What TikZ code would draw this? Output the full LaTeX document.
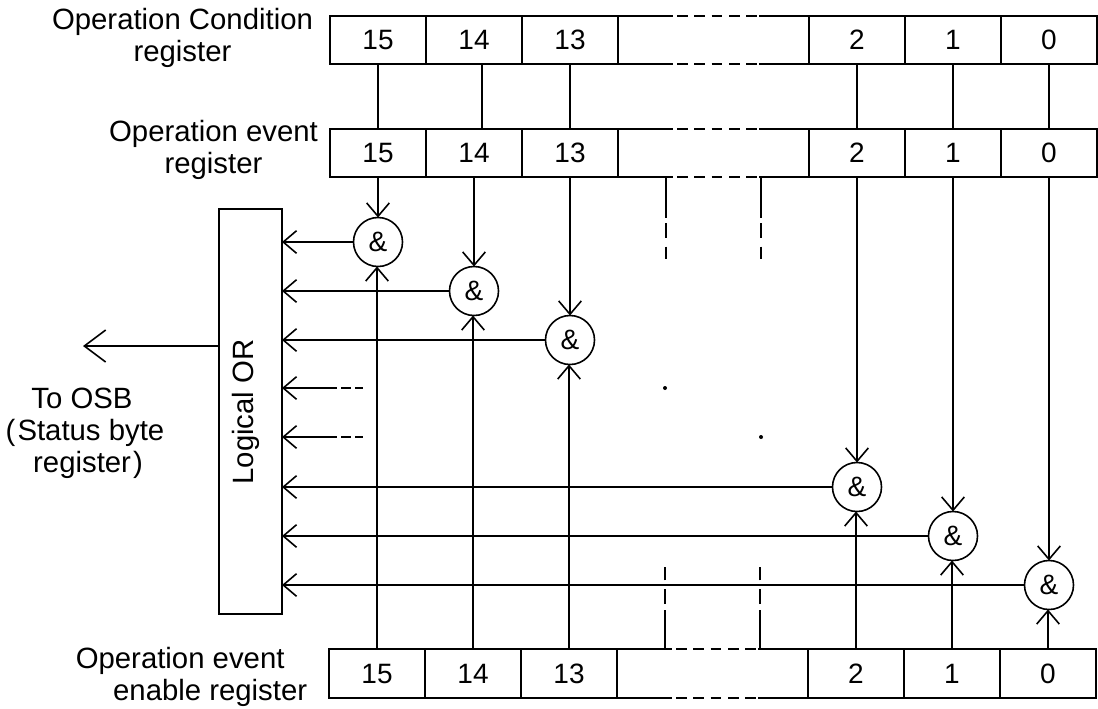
\documentclass[tikz,border=0pt]{standalone}
\usepackage{fontspec}
\setmainfont{Liberation Sans}
\usetikzlibrary{arrows.meta,calc}
\tikzset{
  x=0.75pt,y=-0.75pt,
  every path/.style={line width=1.2pt},
  cell/.style={draw,rectangle,minimum width=72pt,minimum height=36pt,inner sep=0pt,outer sep=0pt,font=\fontsize{21}{24}\selectfont},
  gap/.style={rectangle,minimum width=143.25pt,minimum height=36pt,inner sep=0pt,outer sep=0pt},
  andgate/.style={draw,circle,minimum size=36.75pt,inner sep=0pt,outer sep=0pt,font=\fontsize{21}{24}\selectfont},
  orbox/.style={draw,rectangle,minimum width=47.25pt,minimum height=303.75pt,inner sep=0pt,outer sep=0pt},
  lbl/.style={align=center,inner sep=0pt,font=\fontsize{22}{24}\selectfont},
  vee/.style={-{Straight Barb[length=10pt,width=17pt]}},
  bigvee/.style={-{Straight Barb[length=16pt,width=24pt]}},
  stubdash/.style={dash pattern=on 11pt off 6.75pt},
  regdash/.style={dash pattern=on 8pt off 5pt},
  dot/.style={circle,fill,minimum size=3pt,inner sep=0pt},
}
\begin{document}
\begin{tikzpicture}
\useasboundingbox (0,0) rectangle (1098,708);
% registers
\foreach \n/\x in {15/378,14/474,13/570,2/857,1/953,0/1049}{
  \node[cell] (t\n) at (\x,40) {\n};
  \node[cell] (e\n) at (\x,153) {\n};
  \node[cell,minimum height=36.75pt] (b\n) at (\x-1,673.5) {\n};
}
\node[gap] (tm) at (713.5,40) {};
\node[gap] (em) at (713.5,153) {};
\node[gap,minimum height=36.75pt] (bm) at (712.5,673.5) {};
\foreach \m in {tm,em,bm}{
  \draw (\m.north west) -- ++(55,0) coordinate (\m a);
  \draw[regdash] ($(\m a)+(4,0)$) -- ++(80,0);
  \draw ($(\m a)+(86,0)$) -- (\m.north east);
  \draw (\m.south west) -- ++(55,0) coordinate (\m c);
  \draw[regdash] ($(\m c)+(4,0)$) -- ++(80,0);
  \draw ($(\m c)+(86,0)$) -- (\m.south east);
}
% gates
\node[andgate] (c15) at (378,242) {\&};
\node[andgate] (c14) at (474,291) {\&};
\node[andgate] (c13) at (570,340) {\&};
\node[andgate] (c2) at (857,487) {\&};
\node[andgate] (c1) at (953,536) {\&};
\node[andgate] (c0) at (1049,585) {\&};
\node[orbox] (orb) at (250.5,411.5) {};
\node[rotate=90,inner sep=0pt,font=\fontsize{22}{24}\selectfont] (ortext) at (246,412) {Logical OR};
% condition to event
\draw (t15.south) -- (e15.north);
\draw ($(t14.south)+(8,0)$) -- ($(e14.north)+(8,0)$);
\foreach \n in {13,2,1,0}{\draw (t\n.south) -- (e\n.north);}
% gates in/out
\foreach \n in {15,14,13,2,1,0}{
  \draw[vee] (e\n.south) -- (c\n.north);
  \draw[vee] (b\n.north) -- (b\n.north |- c\n.south);
  \draw[vee] (c\n.west) -- (c\n.west -| orb.east);
}
% dashed arrows into OR
\coordinate (g1s) at (327,388);
\coordinate (g1e) at (363,388);
\coordinate (g2s) at (327,437);
\coordinate (g2e) at (363,437);
\foreach \g in {g1,g2}{
  \draw[vee] (\g s) -- (\g s -| orb.east);
  \draw[dash pattern=on 7.5pt off 3pt] (\g s) -- (\g e);
}
% stubs
\coordinate (s1a) at (666,218);\coordinate (s1c) at (666,223);\coordinate (s1b) at (666,259);
\coordinate (s2a) at (761,218);\coordinate (s2c) at (761,223);\coordinate (s2b) at (761,259);
\draw (s1a |- em.south) -- (s1a);
\draw[stubdash] (s1c) -- (s1b);
\draw (s2a |- em.south) -- (s2a);
\draw[stubdash] (s2c) -- (s2b);
\coordinate (s3a) at (665,610);\coordinate (s3c) at (665,604);\coordinate (s3b) at (665,567);
\coordinate (s4a) at (760,610);\coordinate (s4c) at (760,604);\coordinate (s4b) at (760,567);
\draw (s3a |- bm.north) -- (s3a);
\draw[stubdash] (s3c) -- (s3b);
\draw (s4a |- bm.north) -- (s4a);
\draw[stubdash] (s4c) -- (s4b);
% dots
\node[dot] (d1) at (665,388) {};
\node[dot] (d2) at (761,437) {};
% output
\coordinate (osb) at (83,346);
\draw[bigvee] (osb -| orb.west) -- (osb);
% labels
\node[lbl] (l1) at (182.5,38) {Operation Condition\\register};
\node[lbl] (l2) at (213.5,150) {Operation event\\register};
\node[lbl,align=left,anchor=west] (l3) at (75,677) {Operation event\\\hspace*{28pt}enable register};
\node[lbl] (l4) at (85,433) {To OSB\hspace*{4.5pt}\\(\hspace{1.5pt}Status byte\\\hspace*{4.5pt}register\hspace{1.5pt})};
\end{tikzpicture}
\end{document}
